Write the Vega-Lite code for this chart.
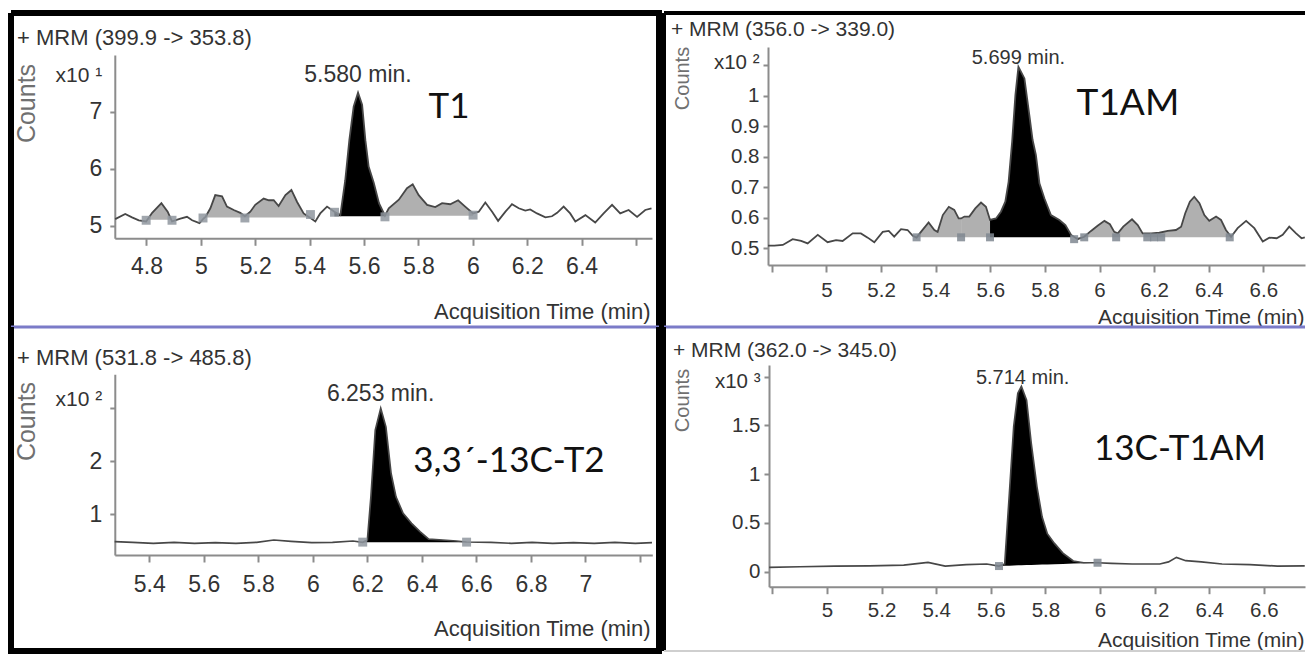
{
  "$schema": "https://vega.github.io/schema/vega-lite/v6.json",
  "padding": {"left": 6, "top": 10, "right": 0, "bottom": 0},
  "background": "white",
  "spacing": -6,
  "datasets": {
    "trace": [
      {"p":"TL","t":4.685,"v":5.12},{"p":"TL","t":4.722,"v":5.21},{"p":"TL","t":4.747,"v":5.15},{"p":"TL","t":4.772,"v":5.10},
      {"p":"TL","t":4.799,"v":5.08,"s1":"g1","b":5.11},{"p":"TL","t":4.821,"v":5.23,"s1":"g1","b":5.11},{"p":"TL","t":4.855,"v":5.40,"s1":"g1","b":5.11},{"p":"TL","t":4.878,"v":5.25,"s1":"g1","b":5.11},{"p":"TL","t":4.894,"v":5.08,"s1":"g1","b":5.11},
      {"p":"TL","t":4.925,"v":5.13},{"p":"TL","t":4.949,"v":5.16},{"p":"TL","t":4.968,"v":5.10},{"p":"TL","t":4.995,"v":5.05},
      {"p":"TL","t":5.008,"v":5.12,"s1":"g2","b":5.15},{"p":"TL","t":5.017,"v":5.16,"s1":"g2","b":5.15},{"p":"TL","t":5.035,"v":5.31,"s1":"g2","b":5.15},{"p":"TL","t":5.053,"v":5.54,"s1":"g2","b":5.15},{"p":"TL","t":5.078,"v":5.52,"s1":"g2","b":5.15},{"p":"TL","t":5.096,"v":5.34,"s1":"g2","b":5.15},{"p":"TL","t":5.121,"v":5.28,"s1":"g2","b":5.15},{"p":"TL","t":5.145,"v":5.23,"s1":"g2","b":5.15},{"p":"TL","t":5.162,"v":5.17,"s1":"g2","b":5.15},{"p":"TL","t":5.182,"v":5.25,"s1":"g2","b":5.15},{"p":"TL","t":5.200,"v":5.37,"s1":"g2","b":5.15},{"p":"TL","t":5.231,"v":5.48,"s1":"g2","b":5.15},{"p":"TL","t":5.250,"v":5.45,"s1":"g2","b":5.15},{"p":"TL","t":5.268,"v":5.45,"s1":"g2","b":5.15},{"p":"TL","t":5.286,"v":5.35,"s1":"g2","b":5.15},{"p":"TL","t":5.311,"v":5.54,"s1":"g2","b":5.15},{"p":"TL","t":5.333,"v":5.63,"s1":"g2","b":5.15},{"p":"TL","t":5.354,"v":5.42,"s1":"g2","b":5.15},{"p":"TL","t":5.378,"v":5.22,"s1":"g2","b":5.15},{"p":"TL","t":5.403,"v":5.14,"s1":"g2","b":5.15},
      {"p":"TL","t":5.421,"v":5.08},{"p":"TL","t":5.439,"v":5.22},{"p":"TL","t":5.464,"v":5.34},
      {"p":"TL","t":5.491,"v":5.25,"s1":"main","b":5.17},{"p":"TL","t":5.513,"v":5.19,"s1":"main","b":5.17},{"p":"TL","t":5.531,"v":5.80,"s1":"main","b":5.17},{"p":"TL","t":5.546,"v":6.50,"s1":"main","b":5.17},{"p":"TL","t":5.562,"v":7.09,"s1":"main","b":5.17},{"p":"TL","t":5.578,"v":7.33,"s1":"main","b":5.17},{"p":"TL","t":5.593,"v":7.12,"s1":"main","b":5.17},{"p":"TL","t":5.605,"v":6.50,"s1":"main","b":5.17},{"p":"TL","t":5.617,"v":6.04,"s1":"main","b":5.17},{"p":"TL","t":5.636,"v":5.75,"s1":"main","b":5.17},{"p":"TL","t":5.655,"v":5.40,"s1":"main","b":5.17},
      {"p":"TL","t":5.677,"v":5.18,"s1":"main","s2":"g3","b":5.17},
      {"p":"TL","t":5.691,"v":5.31,"s1":"g3","b":5.18},{"p":"TL","t":5.728,"v":5.46,"s1":"g3","b":5.18},{"p":"TL","t":5.758,"v":5.66,"s1":"g3","b":5.18},{"p":"TL","t":5.779,"v":5.73,"s1":"g3","b":5.18},{"p":"TL","t":5.801,"v":5.54,"s1":"g3","b":5.18},{"p":"TL","t":5.832,"v":5.37,"s1":"g3","b":5.18},{"p":"TL","t":5.862,"v":5.33,"s1":"g3","b":5.18},{"p":"TL","t":5.887,"v":5.40,"s1":"g3","b":5.18},{"p":"TL","t":5.917,"v":5.38,"s1":"g3","b":5.18},{"p":"TL","t":5.946,"v":5.45,"s1":"g3","b":5.18},{"p":"TL","t":5.972,"v":5.34,"s1":"g3","b":5.18},{"p":"TL","t":6.001,"v":5.22,"s1":"g3","b":5.18},
      {"p":"TL","t":6.022,"v":5.25},{"p":"TL","t":6.046,"v":5.41},{"p":"TL","t":6.071,"v":5.25},{"p":"TL","t":6.093,"v":5.09},{"p":"TL","t":6.120,"v":5.25},{"p":"TL","t":6.144,"v":5.38},{"p":"TL","t":6.169,"v":5.31},{"p":"TL","t":6.193,"v":5.27},{"p":"TL","t":6.211,"v":5.29},{"p":"TL","t":6.236,"v":5.22},{"p":"TL","t":6.267,"v":5.15},{"p":"TL","t":6.291,"v":5.17},{"p":"TL","t":6.310,"v":5.23},{"p":"TL","t":6.334,"v":5.34},{"p":"TL","t":6.358,"v":5.22},{"p":"TL","t":6.377,"v":5.08},{"p":"TL","t":6.414,"v":5.19},{"p":"TL","t":6.450,"v":5.06},{"p":"TL","t":6.481,"v":5.22},{"p":"TL","t":6.512,"v":5.37},{"p":"TL","t":6.542,"v":5.22},{"p":"TL","t":6.573,"v":5.28},{"p":"TL","t":6.604,"v":5.16},{"p":"TL","t":6.634,"v":5.28},{"p":"TL","t":6.657,"v":5.31},

      {"p":"TR","t":4.786,"v":0.509},{"p":"TR","t":4.809,"v":0.509},{"p":"TR","t":4.840,"v":0.511},{"p":"TR","t":4.876,"v":0.530},{"p":"TR","t":4.907,"v":0.524},{"p":"TR","t":4.931,"v":0.516},{"p":"TR","t":4.968,"v":0.544},{"p":"TR","t":5.004,"v":0.520},{"p":"TR","t":5.035,"v":0.527},{"p":"TR","t":5.059,"v":0.524},{"p":"TR","t":5.096,"v":0.549},{"p":"TR","t":5.126,"v":0.549},{"p":"TR","t":5.151,"v":0.535},{"p":"TR","t":5.175,"v":0.520},{"p":"TR","t":5.206,"v":0.554},{"p":"TR","t":5.228,"v":0.557},{"p":"TR","t":5.248,"v":0.538},{"p":"TR","t":5.273,"v":0.563},{"p":"TR","t":5.297,"v":0.560},{"p":"TR","t":5.316,"v":0.541},
      {"p":"TR","t":5.330,"v":0.535,"s1":"g1","b":0.536},{"p":"TR","t":5.346,"v":0.554,"s1":"g1","b":0.536},{"p":"TR","t":5.374,"v":0.585,"s1":"g1","b":0.536},{"p":"TR","t":5.395,"v":0.560,"s1":"g1","b":0.536},{"p":"TR","t":5.407,"v":0.554,"s1":"g1","b":0.536},{"p":"TR","t":5.426,"v":0.609,"s1":"g1","b":0.536},{"p":"TR","t":5.448,"v":0.636,"s1":"g1","b":0.536},{"p":"TR","t":5.468,"v":0.626,"s1":"g1","b":0.536},{"p":"TR","t":5.484,"v":0.598,"s1":"g1","b":0.536},
      {"p":"TR","t":5.493,"v":0.598,"s1":"g1","s2":"g2","b":0.536},
      {"p":"TR","t":5.505,"v":0.604,"s1":"g2","b":0.536},{"p":"TR","t":5.523,"v":0.604,"s1":"g2","b":0.536},{"p":"TR","t":5.545,"v":0.631,"s1":"g2","b":0.536},{"p":"TR","t":5.566,"v":0.650,"s1":"g2","b":0.536},{"p":"TR","t":5.584,"v":0.636,"s1":"g2","b":0.536},
      {"p":"TR","t":5.599,"v":0.593,"s1":"g2","s2":"main","b":0.536},
      {"p":"TR","t":5.621,"v":0.598,"s1":"main","b":0.536},{"p":"TR","t":5.639,"v":0.620,"s1":"main","b":0.536},{"p":"TR","t":5.655,"v":0.653,"s1":"main","b":0.536},{"p":"TR","t":5.667,"v":0.718,"s1":"main","b":0.536},{"p":"TR","t":5.680,"v":0.850,"s1":"main","b":0.536},{"p":"TR","t":5.692,"v":1.003,"s1":"main","b":0.536},{"p":"TR","t":5.703,"v":1.095,"s1":"main","b":0.536},{"p":"TR","t":5.725,"v":1.057,"s1":"main","b":0.536},{"p":"TR","t":5.743,"v":0.937,"s1":"main","b":0.536},{"p":"TR","t":5.755,"v":0.855,"s1":"main","b":0.536},{"p":"TR","t":5.767,"v":0.806,"s1":"main","b":0.536},{"p":"TR","t":5.780,"v":0.713,"s1":"main","b":0.536},{"p":"TR","t":5.798,"v":0.664,"s1":"main","b":0.536},{"p":"TR","t":5.822,"v":0.609,"s1":"main","b":0.536},{"p":"TR","t":5.853,"v":0.593,"s1":"main","b":0.536},{"p":"TR","t":5.875,"v":0.576,"s1":"main","b":0.536},
      {"p":"TR","t":5.896,"v":0.544,"s1":"main","s2":"g3","b":0.536},
      {"p":"TR","t":5.920,"v":0.530,"s1":"g3","b":0.536},{"p":"TR","t":5.944,"v":0.538,"s1":"g3","b":0.536},{"p":"TR","t":5.969,"v":0.557,"s1":"g3","b":0.536},{"p":"TR","t":5.993,"v":0.574,"s1":"g3","b":0.536},{"p":"TR","t":6.018,"v":0.590,"s1":"g3","b":0.536},{"p":"TR","t":6.038,"v":0.579,"s1":"g3","b":0.536},{"p":"TR","t":6.054,"v":0.554,"s1":"g3","b":0.536},{"p":"TR","t":6.067,"v":0.549,"s1":"g3","b":0.536},{"p":"TR","t":6.087,"v":0.571,"s1":"g3","b":0.536},{"p":"TR","t":6.119,"v":0.595,"s1":"g3","b":0.536},{"p":"TR","t":6.140,"v":0.576,"s1":"g3","b":0.536},{"p":"TR","t":6.158,"v":0.549,"s1":"g3","b":0.536},{"p":"TR","t":6.189,"v":0.549,"s1":"g3","b":0.536},{"p":"TR","t":6.219,"v":0.551,"s1":"g3","b":0.536},{"p":"TR","t":6.250,"v":0.557,"s1":"g3","b":0.536},{"p":"TR","t":6.280,"v":0.560,"s1":"g3","b":0.536},{"p":"TR","t":6.299,"v":0.571,"s1":"g3","b":0.536},{"p":"TR","t":6.314,"v":0.615,"s1":"g3","b":0.536},{"p":"TR","t":6.331,"v":0.653,"s1":"g3","b":0.536},{"p":"TR","t":6.347,"v":0.669,"s1":"g3","b":0.536},{"p":"TR","t":6.366,"v":0.648,"s1":"g3","b":0.536},{"p":"TR","t":6.384,"v":0.609,"s1":"g3","b":0.536},{"p":"TR","t":6.402,"v":0.590,"s1":"g3","b":0.536},{"p":"TR","t":6.427,"v":0.604,"s1":"g3","b":0.536},{"p":"TR","t":6.445,"v":0.593,"s1":"g3","b":0.536},{"p":"TR","t":6.463,"v":0.560,"s1":"g3","b":0.536},{"p":"TR","t":6.482,"v":0.538,"s1":"g3","b":0.536},
      {"p":"TR","t":6.506,"v":0.566},{"p":"TR","t":6.537,"v":0.590},{"p":"TR","t":6.567,"v":0.566},{"p":"TR","t":6.598,"v":0.522},{"p":"TR","t":6.622,"v":0.535},{"p":"TR","t":6.649,"v":0.533},{"p":"TR","t":6.671,"v":0.544},{"p":"TR","t":6.695,"v":0.571},{"p":"TR","t":6.720,"v":0.549},{"p":"TR","t":6.740,"v":0.533},{"p":"TR","t":6.752,"v":0.536},

      {"p":"BL","t":5.273,"v":0.483},{"p":"BL","t":5.339,"v":0.472},{"p":"BL","t":5.415,"v":0.453},{"p":"BL","t":5.491,"v":0.472},{"p":"BL","t":5.566,"v":0.453},{"p":"BL","t":5.642,"v":0.465},{"p":"BL","t":5.718,"v":0.453},{"p":"BL","t":5.794,"v":0.472},{"p":"BL","t":5.857,"v":0.515},{"p":"BL","t":5.920,"v":0.490},{"p":"BL","t":5.996,"v":0.465},{"p":"BL","t":6.072,"v":0.472},{"p":"BL","t":6.147,"v":0.496},
      {"p":"BL","t":6.183,"v":0.472,"s1":"main","b":0.475},{"p":"BL","t":6.200,"v":0.515,"s1":"main","b":0.475},{"p":"BL","t":6.213,"v":1.33,"s1":"main","b":0.475},{"p":"BL","t":6.229,"v":2.59,"s1":"main","b":0.475},{"p":"BL","t":6.249,"v":3.00,"s1":"main","b":0.475},{"p":"BL","t":6.268,"v":2.65,"s1":"main","b":0.475},{"p":"BL","t":6.287,"v":1.77,"s1":"main","b":0.475},{"p":"BL","t":6.305,"v":1.33,"s1":"main","b":0.475},{"p":"BL","t":6.331,"v":1.02,"s1":"main","b":0.475},{"p":"BL","t":6.362,"v":0.83,"s1":"main","b":0.475},{"p":"BL","t":6.394,"v":0.67,"s1":"main","b":0.475},{"p":"BL","t":6.425,"v":0.53,"s1":"main","b":0.475},{"p":"BL","t":6.476,"v":0.515,"s1":"main","b":0.475},{"p":"BL","t":6.527,"v":0.496,"s1":"main","b":0.475},{"p":"BL","t":6.564,"v":0.478,"s1":"main","b":0.475},
      {"p":"BL","t":6.653,"v":0.472},{"p":"BL","t":6.728,"v":0.453},{"p":"BL","t":6.804,"v":0.472},{"p":"BL","t":6.880,"v":0.453},{"p":"BL","t":6.956,"v":0.465},{"p":"BL","t":7.032,"v":0.453},{"p":"BL","t":7.108,"v":0.472},{"p":"BL","t":7.183,"v":0.453},{"p":"BL","t":7.244,"v":0.465},

      {"p":"BR","t":4.788,"v":0.045},{"p":"BR","t":4.901,"v":0.051},{"p":"BR","t":5.028,"v":0.058},{"p":"BR","t":5.155,"v":0.060},{"p":"BR","t":5.281,"v":0.068},{"p":"BR","t":5.370,"v":0.096},{"p":"BR","t":5.433,"v":0.058},{"p":"BR","t":5.510,"v":0.072},{"p":"BR","t":5.585,"v":0.079},
      {"p":"BR","t":5.630,"v":0.058,"s1":"main","b":0.058},{"p":"BR","t":5.651,"v":0.079,"s1":"main","b":0.060},{"p":"BR","t":5.668,"v":0.80,"s1":"main","b":0.062},{"p":"BR","t":5.684,"v":1.49,"s1":"main","b":0.063},{"p":"BR","t":5.699,"v":1.83,"s1":"main","b":0.065},{"p":"BR","t":5.712,"v":1.90,"s1":"main","b":0.066},{"p":"BR","t":5.731,"v":1.76,"s1":"main","b":0.068},{"p":"BR","t":5.748,"v":1.32,"s1":"main","b":0.069},{"p":"BR","t":5.769,"v":0.87,"s1":"main","b":0.071},{"p":"BR","t":5.788,"v":0.56,"s1":"main","b":0.073},{"p":"BR","t":5.807,"v":0.39,"s1":"main","b":0.075},{"p":"BR","t":5.833,"v":0.29,"s1":"main","b":0.077},{"p":"BR","t":5.864,"v":0.19,"s1":"main","b":0.080},{"p":"BR","t":5.902,"v":0.11,"s1":"main","b":0.084},{"p":"BR","t":5.940,"v":0.092,"s1":"main","b":0.087},{"p":"BR","t":5.991,"v":0.092,"s1":"main","b":0.092},
      {"p":"BR","t":6.042,"v":0.086},{"p":"BR","t":6.118,"v":0.079},{"p":"BR","t":6.219,"v":0.079},{"p":"BR","t":6.251,"v":0.100},{"p":"BR","t":6.280,"v":0.147},{"p":"BR","t":6.314,"v":0.113},{"p":"BR","t":6.371,"v":0.100},{"p":"BR","t":6.447,"v":0.079},{"p":"BR","t":6.549,"v":0.072},{"p":"BR","t":6.650,"v":0.058},{"p":"BR","t":6.750,"v":0.060}
    ],
    "mk": [
      {"p":"TL","t":4.799,"v":5.10},{"p":"TL","t":4.894,"v":5.10},{"p":"TL","t":5.008,"v":5.14},{"p":"TL","t":5.162,"v":5.14},{"p":"TL","t":5.403,"v":5.20},{"p":"TL","t":5.4915,"v":5.24},{"p":"TL","t":5.677,"v":5.16},{"p":"TL","t":6.001,"v":5.19},
      {"p":"TR","t":5.330,"v":0.536},{"p":"TR","t":5.493,"v":0.536},{"p":"TR","t":5.599,"v":0.536},{"p":"TR","t":5.907,"v":0.530},{"p":"TR","t":5.944,"v":0.536},{"p":"TR","t":6.061,"v":0.536},{"p":"TR","t":6.175,"v":0.536},{"p":"TR","t":6.200,"v":0.536},{"p":"TR","t":6.226,"v":0.536},{"p":"TR","t":6.477,"v":0.536},
      {"p":"BL","t":6.183,"v":0.475},{"p":"BL","t":6.564,"v":0.475},
      {"p":"BR","t":5.630,"v":0.058},{"p":"BR","t":5.991,"v":0.092}
    ],
    "notes": [
      {"p":"TL","k":"head","t":4.3243,"v":8.164,"text":"+ MRM (399.9 -> 353.8)"},
      {"p":"TL","k":"peak","t":5.578,"v":7.517,"text":"5.580 min."},
      {"p":"TL","k":"name","t":5.9125,"v":6.888,"text":"T1"},
      {"p":"TR","k":"head","t":4.4304,"v":1.196,"text":"+ MRM (356.0 -> 339.0)"},
      {"p":"TR","k":"peak","t":5.703,"v":1.104,"text":"5.699 min."},
      {"p":"TR","k":"name","t":6.104,"v":0.937,"text":"T1AM"},
      {"p":"BL","k":"head","t":4.9147,"v":3.817,"text":"+ MRM (531.8 -> 485.8)"},
      {"p":"BL","k":"peak","t":6.2485,"v":3.143,"text":"6.253 min."},
      {"p":"BL","k":"name","t":6.7195,"v":1.798,"text":"3,3´-13C-T2"},
      {"p":"BR","k":"head","t":4.4359,"v":2.202,"text":"+ MRM (362.0 -> 345.0)"},
      {"p":"BR","k":"peak","t":5.7165,"v":1.925,"text":"5.714 min."},
      {"p":"BR","k":"name","t":6.293,"v":1.146,"text":"13C-T1AM"}
    ]
  },
  "hconcat": [
    {
      "bounds": "flush",
      "spacing": 0,
      "vconcat": [
        {
          "width": 648, "height": 314,
          "view": {"stroke": "#000", "strokeWidth": 6, "strokeDash": [962, 648, 314, 0]},
          "layer": [
            {
              "encoding": {
                "x": {"field": "t", "type": "quantitative", "scale": {"domain": [4.302, 6.6846], "nice": false, "zero": false},
                  "axis": {"orient": "bottom", "offset": -88.7, "values": [4.8,5,5.2,5.4,5.6,5.8,6,6.2,6.4,6.6], "format": "~g", "labelExpr": "datum.value > 6.5 ? '' : datum.label", "labelFontSize": 23, "tickSize": 7, "labelPadding": 10, "domainDash": [0, 103.8, 537.2, 3000], "title": "Acquisition Time (min)", "titleFontSize": 22, "titleX": 639, "titleY": 80, "titleAlign": "right", "titleBaseline": "alphabetic", "titleAngle": 0}},
                "y": {"field": "v", "type": "quantitative", "scale": {"domain": [3.234, 8.724], "nice": false, "zero": false},
                  "axis": {"orient": "left", "offset": -103.8, "values": [5,6,7,8], "format": "~g", "labelExpr": "datum.value == 8 ? 'x10 ¹' : datum.label", "labelOffset": {"condition": {"test": "datum.value == 8", "value": 21}, "value": 0}, "labelFontSize": {"condition": {"test": "datum.value == 8", "value": 21}, "value": 23}, "tickOpacity": {"condition": {"test": "datum.value == 8", "value": 0}, "value": 1}, "tickSize": 5, "labelPadding": 8, "domainDash": [0, 88.7, 183.3, 3000], "title": "Counts", "titleFontSize": 25, "titleColor": "#707070", "titleX": -80.8, "titleY": 90, "titleAngle": 270, "titleAlign": "center", "titleBaseline": "alphabetic"}}
              },
              "layer": [
                {"data": {"name": "trace"}, "transform": [{"filter": "datum.p == 'TL'"}, {"fold": ["s1", "s2"], "as": ["k", "seg"]}, {"filter": "isValid(datum.seg)"}], "mark": {"type": "area", "interpolate": "linear"}, "encoding": {"y2": {"field": "b"}, "detail": {"field": "seg", "type": "nominal"}, "fill": {"condition": {"test": "datum.seg == 'main'", "value": "#000000"}, "value": "#b0b0b0"}}},
                {"data": {"name": "trace"}, "transform": [{"filter": "datum.p == 'TL'"}], "mark": {"type": "line", "color": "#474747", "strokeWidth": 1.8}},
                {"data": {"name": "mk"}, "transform": [{"filter": "datum.p == 'TL'"}], "mark": {"type": "point", "shape": "square", "filled": true, "size": 80, "color": "#8f969f", "opacity": 0.85}},
                {"data": {"name": "notes"}, "transform": [{"filter": "datum.p == 'TL' && datum.k == 'head'"}], "mark": {"type": "text", "fontSize": 22, "color": "#333", "baseline": "alphabetic", "align": "left"}, "encoding": {"text": {"field": "text"}}},
                {"data": {"name": "notes"}, "transform": [{"filter": "datum.p == 'TL' && datum.k == 'peak'"}], "mark": {"type": "text", "fontSize": 23, "color": "#333", "baseline": "alphabetic", "align": "center"}, "encoding": {"text": {"field": "text"}}},
                {"data": {"name": "notes"}, "transform": [{"filter": "datum.p == 'TL' && datum.k == 'name'"}], "mark": {"type": "text", "font": "Lato, Open Sans, sans-serif", "fontSize": 35, "color": "#111", "baseline": "alphabetic", "align": "center"}, "encoding": {"text": {"field": "text"}}}
              ]
            },
            {"data": {"values": [{}]}, "mark": {"type": "rule", "color": "#7b7bc8", "strokeWidth": 3}, "encoding": {"x": {"datum": 4.302, "type": "quantitative"}, "x2": {"datum": 6.6846}, "y": {"datum": 3.234, "type": "quantitative"}}}
          ]
        },
        {
          "width": 648, "height": 324,
          "view": {"stroke": "#000", "strokeWidth": 6, "strokeDash": [0, 648, 1296, 0]},
          "encoding": {
            "x": {"field": "t", "type": "quantitative", "scale": {"domain": [4.8927, 7.2698], "nice": false, "zero": false},
              "axis": {"orient": "bottom", "offset": -96, "values": [5.4,5.6,5.8,6,6.2,6.4,6.6,6.8,7,7.2], "format": "~g", "labelExpr": "datum.value > 7.1 ? '' : datum.label", "labelFontSize": 23, "tickSize": 7, "labelPadding": 11, "domainDash": [0, 103.8, 537.5, 3000], "title": "Acquisition Time (min)", "titleFontSize": 22, "titleX": 639, "titleY": 80, "titleAlign": "right", "titleBaseline": "alphabetic", "titleAngle": 0}},
            "y": {"field": "v", "type": "quantitative", "scale": {"domain": [-1.579, 4.534], "nice": false, "zero": false},
              "axis": {"orient": "left", "offset": -103.8, "values": [1,2,3], "format": "~g", "labelExpr": "datum.value == 3 ? 'x10 ²' : datum.label", "labelOffset": {"condition": {"test": "datum.value == 3", "value": -9}, "value": 0}, "labelFontSize": {"condition": {"test": "datum.value == 3", "value": 21}, "value": 23}, "tickSize": 5, "labelPadding": 8, "domainDash": [0, 96, 180.7, 3000], "title": "Counts", "titleFontSize": 25, "titleColor": "#707070", "titleX": -80.8, "titleY": 94, "titleAngle": 270, "titleAlign": "center", "titleBaseline": "alphabetic"}}
          },
          "layer": [
            {"data": {"name": "trace"}, "transform": [{"filter": "datum.p == 'BL'"}, {"fold": ["s1", "s2"], "as": ["k", "seg"]}, {"filter": "isValid(datum.seg)"}], "mark": {"type": "area", "interpolate": "linear"}, "encoding": {"y2": {"field": "b"}, "detail": {"field": "seg", "type": "nominal"}, "fill": {"condition": {"test": "datum.seg == 'main'", "value": "#000000"}, "value": "#b0b0b0"}}},
            {"data": {"name": "trace"}, "transform": [{"filter": "datum.p == 'BL'"}], "mark": {"type": "line", "color": "#474747", "strokeWidth": 1.7}},
            {"data": {"name": "mk"}, "transform": [{"filter": "datum.p == 'BL'"}], "mark": {"type": "point", "shape": "square", "filled": true, "size": 80, "color": "#8f969f", "opacity": 0.85}},
            {"data": {"name": "notes"}, "transform": [{"filter": "datum.p == 'BL' && datum.k == 'head'"}], "mark": {"type": "text", "fontSize": 22, "color": "#333", "baseline": "alphabetic", "align": "left"}, "encoding": {"text": {"field": "text"}}},
            {"data": {"name": "notes"}, "transform": [{"filter": "datum.p == 'BL' && datum.k == 'peak'"}], "mark": {"type": "text", "fontSize": 23, "color": "#333", "baseline": "alphabetic", "align": "center"}, "encoding": {"text": {"field": "text"}}},
            {"data": {"name": "notes"}, "transform": [{"filter": "datum.p == 'BL' && datum.k == 'name'"}], "mark": {"type": "text", "font": "Lato, Open Sans, sans-serif", "fontSize": 35, "color": "#111", "baseline": "alphabetic", "align": "center"}, "encoding": {"text": {"field": "text"}}}
          ]
        }
      ]
    },
    {
      "bounds": "flush",
      "spacing": 0,
      "vconcat": [
        {
          "width": 641, "height": 314,
          "view": {"stroke": "#000", "strokeWidth": 4, "strokeDash": [641, 955, 314, 0]},
          "layer": [
            {
              "encoding": {
                "x": {"field": "t", "type": "quantitative", "scale": {"domain": [4.4048, 6.7527], "nice": false, "zero": false},
                  "axis": {"orient": "bottom", "offset": -62, "values": [4.8,5,5.2,5.4,5.6,5.8,6,6.2,6.4,6.6], "format": "~g", "labelExpr": "datum.value < 4.9 ? '' : datum.label", "labelFontSize": 20.5, "tickSize": 7, "labelPadding": 8, "domainDash": [0, 104, 537, 3000], "title": "Acquisition Time (min)", "titleFontSize": 21, "titleX": 640, "titleY": 58, "titleAlign": "right", "titleBaseline": "alphabetic", "titleAngle": 0}},
                "y": {"field": "v", "type": "quantitative", "scale": {"domain": [0.2420, 1.2715], "nice": false, "zero": false},
                  "axis": {"orient": "left", "offset": -104, "values": [0.5,0.6,0.7,0.8,0.9,1,1.1], "format": "~g", "labelExpr": "datum.value > 1.05 ? 'x10 ²' : datum.label", "labelOffset": {"condition": {"test": "datum.value > 1.05", "value": -3}, "value": 0}, "labelFontSize": 20.5, "tickSize": 5, "labelPadding": 4, "domainDash": [0, 62, 218, 3000], "title": "Counts", "titleFontSize": 20, "titleColor": "#707070", "titleX": -80, "titleY": 65, "titleAngle": 270, "titleAlign": "center", "titleBaseline": "alphabetic"}}
              },
              "layer": [
                {"data": {"name": "trace"}, "transform": [{"filter": "datum.p == 'TR'"}, {"fold": ["s1", "s2"], "as": ["k", "seg"]}, {"filter": "isValid(datum.seg)"}], "mark": {"type": "area", "interpolate": "linear"}, "encoding": {"y2": {"field": "b"}, "detail": {"field": "seg", "type": "nominal"}, "fill": {"condition": {"test": "datum.seg == 'main'", "value": "#000000"}, "value": "#b0b0b0"}}},
                {"data": {"name": "trace"}, "transform": [{"filter": "datum.p == 'TR'"}], "mark": {"type": "line", "color": "#474747", "strokeWidth": 1.8}},
                {"data": {"name": "mk"}, "transform": [{"filter": "datum.p == 'TR'"}], "mark": {"type": "point", "shape": "square", "filled": true, "size": 64, "color": "#7f8791", "opacity": 0.85}},
                {"data": {"name": "notes"}, "transform": [{"filter": "datum.p == 'TR' && datum.k == 'head'"}], "mark": {"type": "text", "fontSize": 21, "color": "#333", "baseline": "alphabetic", "align": "left"}, "encoding": {"text": {"field": "text"}}},
                {"data": {"name": "notes"}, "transform": [{"filter": "datum.p == 'TR' && datum.k == 'peak'"}], "mark": {"type": "text", "fontSize": 20, "color": "#333", "baseline": "alphabetic", "align": "center"}, "encoding": {"text": {"field": "text"}}},
                {"data": {"name": "notes"}, "transform": [{"filter": "datum.p == 'TR' && datum.k == 'name'"}], "mark": {"type": "text", "font": "Lato, Open Sans, sans-serif", "fontSize": 37, "color": "#111", "baseline": "alphabetic", "align": "center"}, "encoding": {"text": {"field": "text"}}}
              ]
            },
            {"data": {"values": [{}]}, "mark": {"type": "rule", "color": "#7b7bc8", "strokeWidth": 3}, "encoding": {"x": {"datum": 4.4048, "type": "quantitative"}, "x2": {"datum": 6.7527}, "y": {"datum": 0.2420, "type": "quantitative"}}}
          ]
        },
        {
          "width": 641, "height": 324,
          "view": {"stroke": "#000", "strokeWidth": 4, "strokeDash": [0, 1606, 324, 0]},
          "layer": [
            {
              "encoding": {
                "x": {"field": "t", "type": "quantitative", "scale": {"domain": [4.4029, 6.7509], "nice": false, "zero": false},
                  "axis": {"orient": "bottom", "offset": -64.3, "values": [4.8,5,5.2,5.4,5.6,5.8,6,6.2,6.4,6.6], "format": "~g", "labelExpr": "datum.value < 4.9 ? '' : datum.label", "labelFontSize": 20.5, "tickSize": 7, "labelPadding": 7, "domainDash": [0, 105, 536, 3000], "title": "Acquisition Time (min)", "titleFontSize": 21, "titleX": 640, "titleY": 60, "titleAlign": "right", "titleBaseline": "alphabetic", "titleAngle": 0}},
                "y": {"field": "v", "type": "quantitative", "scale": {"domain": [-0.8133, 2.5097], "nice": false, "zero": false},
                  "axis": {"orient": "left", "offset": -105, "values": [0,0.5,1,1.5,2], "format": "~g", "labelExpr": "datum.value == 2 ? 'x10 ³' : datum.label", "labelOffset": {"condition": {"test": "datum.value == 2", "value": 5}, "value": 0}, "labelFontSize": 20.5, "tickSize": 5, "labelPadding": 4, "domainDash": [0, 64.3, 221.7, 3000], "title": "Counts", "titleFontSize": 20, "titleColor": "#707070", "titleX": -81, "titleY": 73, "titleAngle": 270, "titleAlign": "center", "titleBaseline": "alphabetic"}}
              },
              "layer": [
                {"data": {"name": "trace"}, "transform": [{"filter": "datum.p == 'BR'"}, {"fold": ["s1", "s2"], "as": ["k", "seg"]}, {"filter": "isValid(datum.seg)"}], "mark": {"type": "area", "interpolate": "linear"}, "encoding": {"y2": {"field": "b"}, "detail": {"field": "seg", "type": "nominal"}, "fill": {"condition": {"test": "datum.seg == 'main'", "value": "#000000"}, "value": "#b0b0b0"}}},
                {"data": {"name": "trace"}, "transform": [{"filter": "datum.p == 'BR'"}], "mark": {"type": "line", "color": "#474747", "strokeWidth": 1.7}},
                {"data": {"name": "mk"}, "transform": [{"filter": "datum.p == 'BR'"}], "mark": {"type": "point", "shape": "square", "filled": true, "size": 64, "color": "#7f8791", "opacity": 0.85}},
                {"data": {"name": "notes"}, "transform": [{"filter": "datum.p == 'BR' && datum.k == 'head'"}], "mark": {"type": "text", "fontSize": 21, "color": "#333", "baseline": "alphabetic", "align": "left"}, "encoding": {"text": {"field": "text"}}},
                {"data": {"name": "notes"}, "transform": [{"filter": "datum.p == 'BR' && datum.k == 'peak'"}], "mark": {"type": "text", "fontSize": 20, "color": "#333", "baseline": "alphabetic", "align": "center"}, "encoding": {"text": {"field": "text"}}},
                {"data": {"name": "notes"}, "transform": [{"filter": "datum.p == 'BR' && datum.k == 'name'"}], "mark": {"type": "text", "font": "Lato, Open Sans, sans-serif", "fontSize": 35, "color": "#111", "baseline": "alphabetic", "align": "center"}, "encoding": {"text": {"field": "text"}}}
              ]
            },
            {"data": {"values": [{}]}, "mark": {"type": "rule", "color": "#cfcfcf", "strokeWidth": 2}, "encoding": {"x": {"datum": 4.4029, "type": "quantitative"}, "x2": {"datum": 6.7509}, "y": {"datum": -0.8133, "type": "quantitative"}}}
          ]
        }
      ]
    }
  ],
  "config": {
    "font": "Liberation Sans, Arial, sans-serif",
    "text": {"font": "Liberation Sans, Arial, sans-serif"},
    "view": {"stroke": null},
    "axis": {"grid": false, "labelFont": "Liberation Sans, Arial, sans-serif", "titleFont": "Liberation Sans, Arial, sans-serif", "domainColor": "#8c8c8c", "domainWidth": 2, "domainCap": "butt", "tickColor": "#8c8c8c", "tickWidth": 2, "labelColor": "#333", "titleColor": "#333", "labelOverlap": false, "labelFlush": false, "labelBound": false, "titleFontWeight": "normal", "titlePadding": 0}
  }
}
